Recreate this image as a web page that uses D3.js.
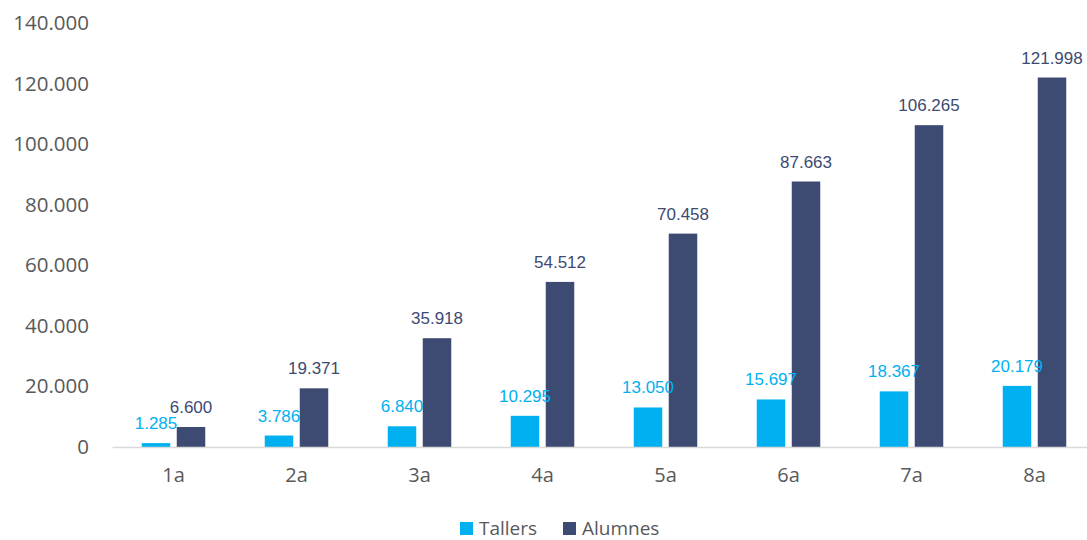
<!DOCTYPE html>
<html>
<head>
<meta charset="utf-8">
<script src="https://cdn.jsdelivr.net/npm/d3@7"></script>
<style>
  html, body { margin: 0; padding: 0; background: #fff; }
  svg { display: block; }
</style>
</head>
<body>
<svg id="chart" width="1087" height="540"></svg>
<script>
// Cursos i valors per sèrie
const categories = ["1a", "2a", "3a", "4a", "5a", "6a", "7a", "8a"];
const tallers = [1285, 3786, 6840, 10295, 13050, 15697, 18367, 20179];
const alumnes = [6600, 19371, 35918, 54512, 70458, 87663, 106265, 121998];
const yTicks = [0, 20000, 40000, 60000, 80000, 100000, 120000, 140000];
const seriesNames = ["Tallers", "Alumnes"];
const seriesColors = ["#00B0F0", "#3D4A72"];

const svg = d3.select("#chart");
const plot = { left: 112, right: 1096, top: 23, bottom: 447 };

const fmt = v => d3.format(",")(v).replace(/,/g, ".");

const x = d3.scaleBand().domain(categories).range([plot.left, plot.right]).paddingInner(0).paddingOuter(0);
const y = d3.scaleLinear().domain([0, 140000]).range([plot.bottom, plot.top]);

const barW = 28.5, gap = 6.5;
const offsets = [-gap / 2 - barW, gap / 2];
const series = [tallers, alumnes];

// Eix Y (etiquetes sense línia)
const yAxis = svg.append("g").attr("transform", `translate(${plot.left - 23},0)`)
  .call(d3.axisLeft(y).tickValues(yTicks).tickSize(0).tickPadding(0).tickFormat(fmt));
yAxis.select(".domain").remove();
yAxis.selectAll("text")
  .attr("font-family", "'Open Sans', sans-serif")
  .attr("font-size", 20.5)
  .attr("fill", "#595959");

// Barres
series.forEach((vals, si) => {
  svg.append("g").selectAll("rect").data(vals).join("rect")
    .attr("x", (d, i) => x(categories[i]) + x.bandwidth() / 2 + offsets[si])
    .attr("y", d => y(d))
    .attr("width", barW)
    .attr("height", d => plot.bottom - y(d))
    .attr("fill", seriesColors[si]);
});

// Eix X
const xAxis = svg.append("g").attr("transform", `translate(0,${plot.bottom})`)
  .call(d3.axisBottom(x).tickSize(0).tickPadding(21));
xAxis.select(".domain").attr("stroke", "#d9d9d9").attr("stroke-width", 1.5);
xAxis.selectAll("text")
  .attr("font-family", "'Open Sans', sans-serif")
  .attr("font-size", 20)
  .attr("fill", "#595959");

// Etiquetes de valor, per sobre de totes les barres
series.forEach((vals, si) => {
  svg.append("g").selectAll("text").data(vals).join("text")
    .attr("x", (d, i) => x(categories[i]) + x.bandwidth() / 2 + offsets[si] + barW / 2)
    .attr("y", d => y(d) - 14)
    .attr("text-anchor", "middle")
    .attr("font-family", "'Liberation Sans', Arial, sans-serif")
    .attr("font-size", 17)
    .attr("fill", seriesColors[si])
    .text(d => fmt(d));
});

// Llegenda
const legendX = [460, 563];
const legend = svg.append("g");
seriesNames.forEach((name, i) => {
  legend.append("rect")
    .attr("x", legendX[i]).attr("y", 522)
    .attr("width", 13).attr("height", 13)
    .attr("fill", seriesColors[i]);
  legend.append("text")
    .attr("x", legendX[i] + 19).attr("y", 534.5)
    .attr("font-family", "'Open Sans', sans-serif")
    .attr("font-size", 19)
    .attr("fill", "#595959")
    .text(name);
});
</script>
</body>
</html>
